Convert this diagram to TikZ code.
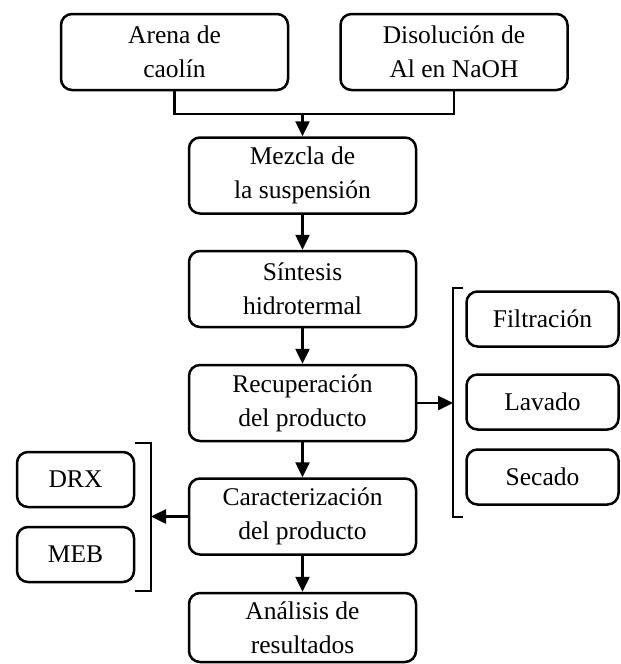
\documentclass[tikz,border=0pt]{standalone}
\usepackage{fontspec}
\setmainfont{Liberation Serif}
\usetikzlibrary{arrows.meta}
\begin{document}
\begin{tikzpicture}[x=1pt,y=-1pt,
  box/.style={draw, line width=2.5pt, rounded corners=11pt, align=center,
    inner sep=0pt, font=\fontsize{25.5}{34}\selectfont},
  bigbox/.style={box, minimum width=227pt, minimum height=76pt},
  smallbox/.style={box, minimum height=55pt},
  conn/.style={line width=2.5pt},
  arr/.style={conn, -{Triangle[length=15pt,width=14pt]}},
  brk/.style={line width=2.3pt}]
\useasboundingbox (0,0) rectangle (621,664);
\node[bigbox] (arena) at (174.5,52) {Arena de\\caolín};
\node[bigbox] (disol) at (454,52) {Disolución de\\Al en NaOH};
\node[bigbox] (mezcla) at (302.5,175.5) {Mezcla de\\la suspensión};
\node[bigbox] (sint) at (302.5,289) {Síntesis\\hidrotermal};
\node[bigbox] (recup) at (302.5,403) {Recuperación\\del producto};
\node[bigbox] (carac) at (302.5,516.5) {Caracterización\\del producto};
\node[bigbox, minimum height=69pt] (anal) at (302.5,627.5) {Análisis de\\resultados};
\node[smallbox, minimum width=152pt] (filt) at (542.5,319) {Filtración};
\node[smallbox, minimum width=152pt] (lav) at (542.5,402) {Lavado};
\node[smallbox, minimum width=152pt] (sec) at (542.5,477) {Secado};
\node[smallbox, minimum width=117pt] (drx) at (75.5,479.5) {DRX};
\node[smallbox, minimum width=117pt] (meb) at (75.5,554.5) {MEB};
\coordinate (j) at (302.5,114);
\coordinate (rbt) at (453,288);
\coordinate (rbb) at (453,517);
\coordinate (lbt) at (151,443);
\coordinate (lbb) at (151,591);
\draw[conn] (arena.south) |- (j) -| (disol.south);
\draw[arr] (j) -- (mezcla.north);
\draw[arr] (mezcla.south) -- (sint.north);
\draw[arr] (sint.south) -- (recup.north);
\draw[arr] (recup.south) -- (carac.north);
\draw[arr] (carac.south) -- (anal.north);
\draw[arr] (recup.east) -- (recup.east -| rbt);
\draw[arr] (carac.west) -- (carac.west -| lbt);
\draw[brk] ([xshift=10pt]rbt) -- (rbt) -- (rbb) -- ([xshift=10pt]rbb);
\draw[brk] ([xshift=-16pt]lbt) -- (lbt) -- (lbb) -- ([xshift=-16pt]lbb);
\end{tikzpicture}
\end{document}
